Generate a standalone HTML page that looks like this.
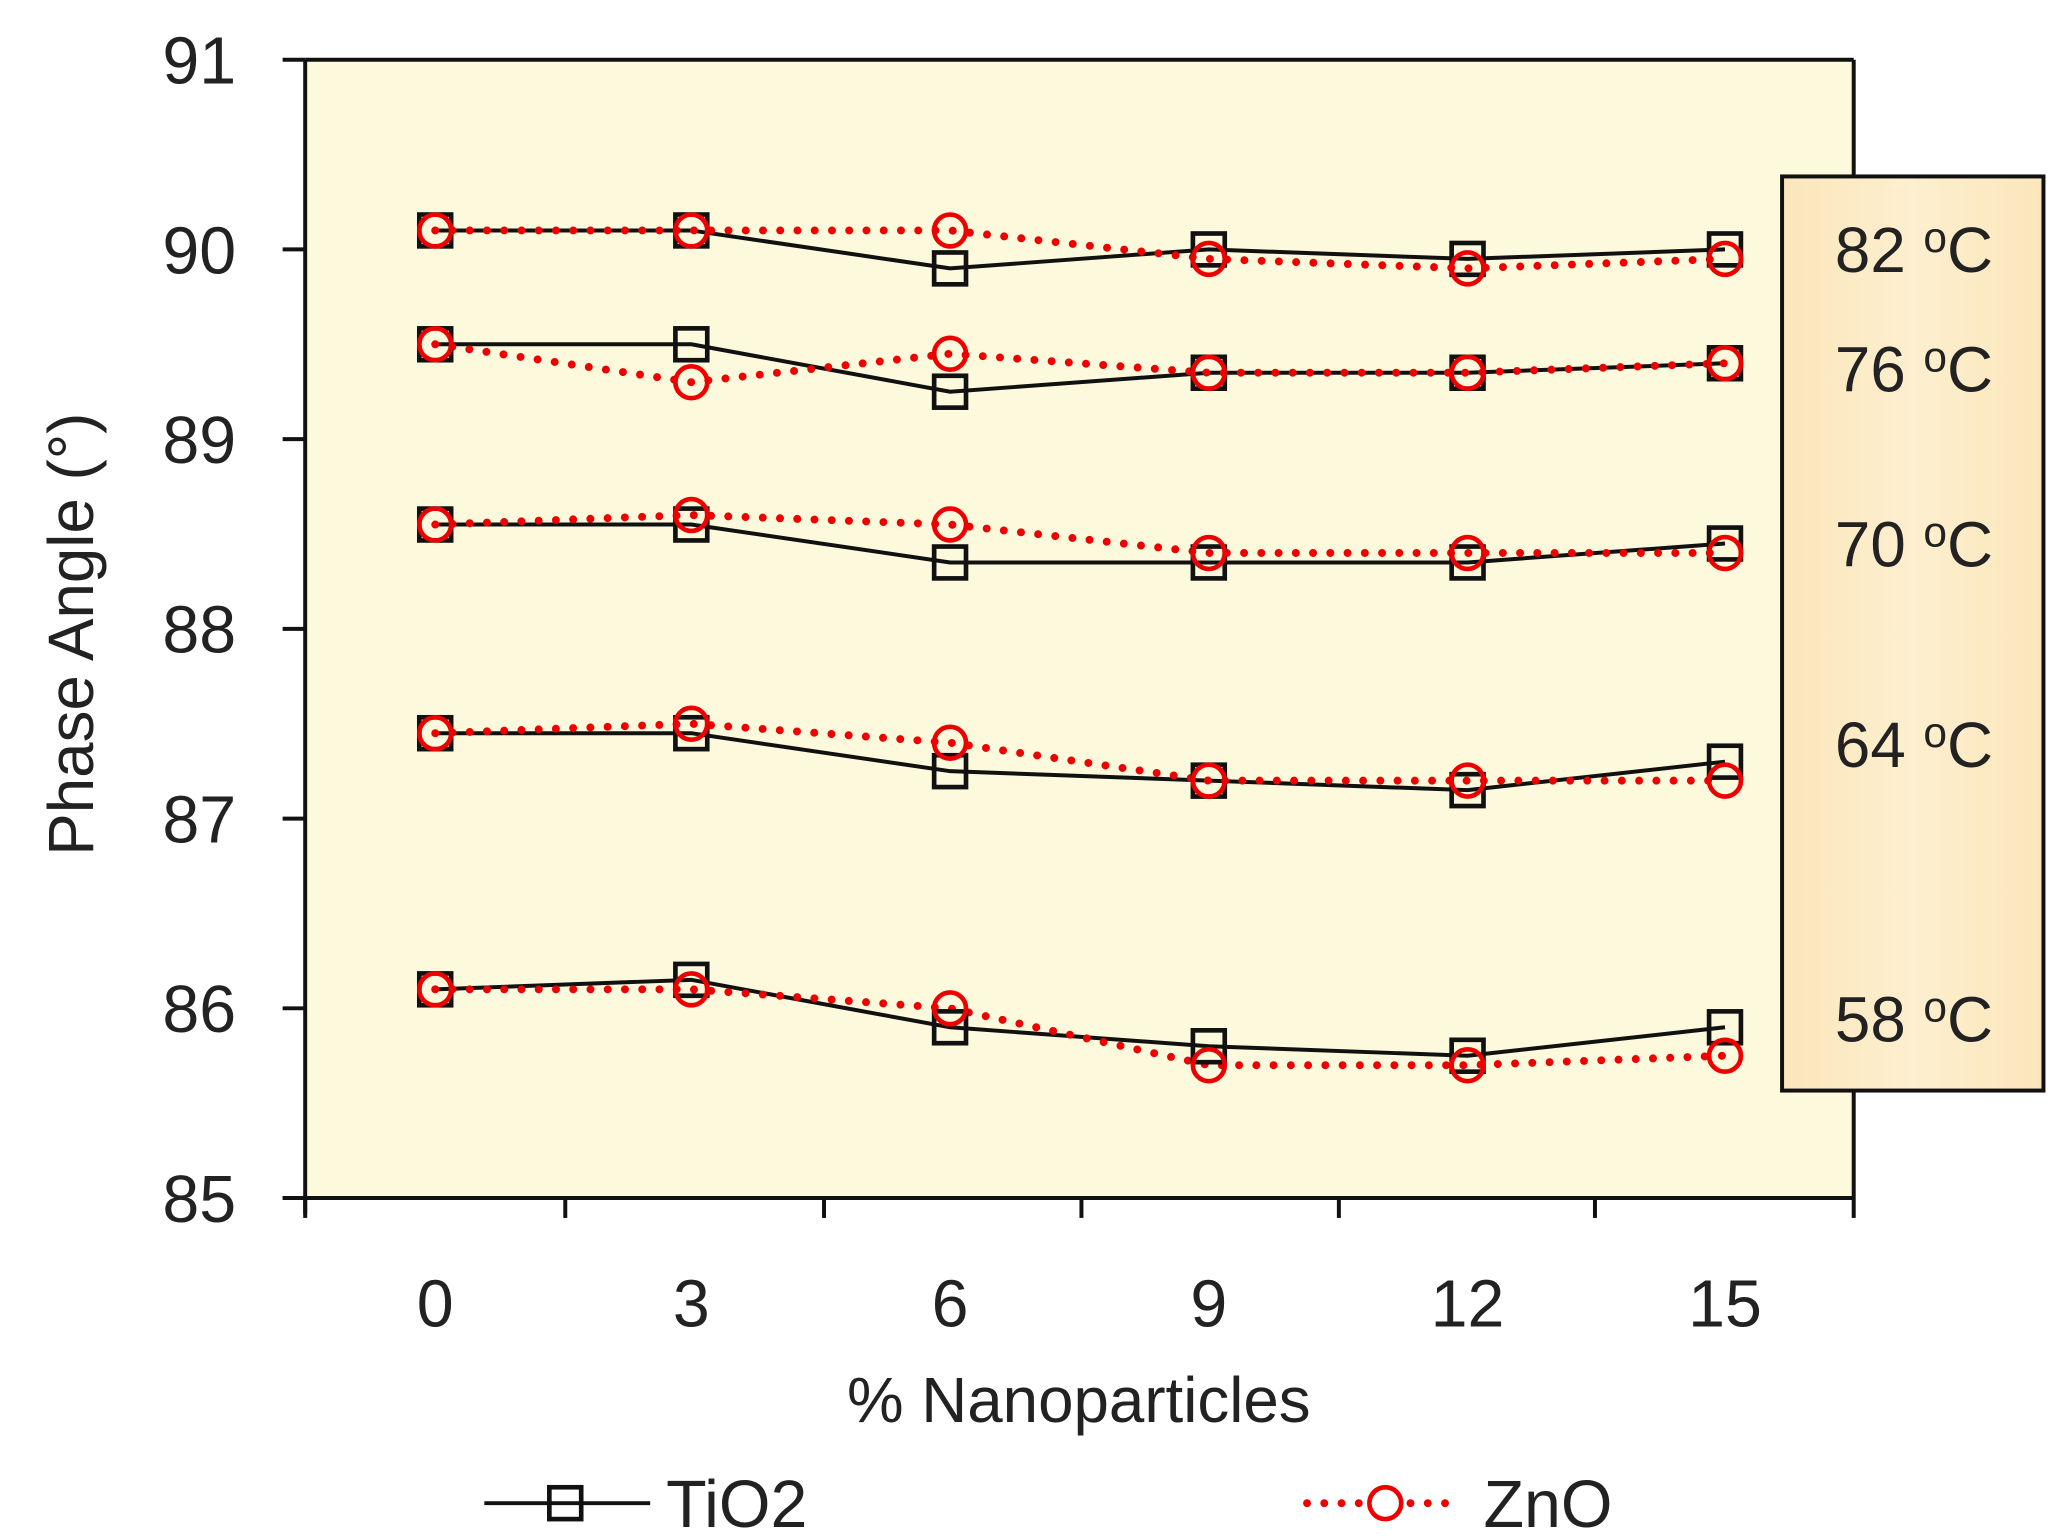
<!DOCTYPE html>
<html><head><meta charset="utf-8"><style>
html,body{margin:0;padding:0;background:#fff;}
svg{display:block;}
text{font-family:"Liberation Sans",sans-serif;fill:#222;}
</style></head><body>
<svg id="s" width="2070" height="1539" viewBox="0 0 1560 1160" preserveAspectRatio="none" xmlns="http://www.w3.org/2000/svg">
<defs><linearGradient id="g" x1="0" x2="1"><stop offset="0" stop-color="#fbe6bb"/><stop offset="0.5" stop-color="#fdefcf"/><stop offset="1" stop-color="#fbe6bb"/></linearGradient></defs>
<rect x="230" y="45" width="1167" height="858" fill="#fdf9dd"/>
<g id="axes" stroke="#111" stroke-width="3" fill="none">
<line x1="230" y1="45" x2="1397" y2="45"/>
<line x1="1397" y1="45" x2="1397" y2="903"/>
<line x1="230" y1="45" x2="230" y2="915"/>
<line x1="213" y1="903" x2="1397" y2="903"/>
</g>
<g id="ticks" stroke="#111" stroke-width="3"></g>
<g id="lbl" font-size="50" text-anchor="end"></g>
<text x="0" y="0" font-size="48" text-anchor="middle" transform="translate(70,478) rotate(-90)">Phase Angle (°)</text>
<text x="813" y="1072" font-size="48" text-anchor="middle">% Nanoparticles</text>
<g id="series"></g>
<rect x="1343" y="133" width="197" height="689" fill="url(#g)" stroke="#111" stroke-width="3"/>
<g font-size="48" text-anchor="end">
<text x="1502" y="205">82 <tspan font-size="32" dy="-15">o</tspan><tspan dy="15">C</tspan></text>
<text x="1502" y="295">76 <tspan font-size="32" dy="-15">o</tspan><tspan dy="15">C</tspan></text>
<text x="1502" y="427">70 <tspan font-size="32" dy="-15">o</tspan><tspan dy="15">C</tspan></text>
<text x="1502" y="578">64 <tspan font-size="32" dy="-15">o</tspan><tspan dy="15">C</tspan></text>
<text x="1502" y="785">58 <tspan font-size="32" dy="-15">o</tspan><tspan dy="15">C</tspan></text>
</g>
<line x1="365" y1="1133" x2="490" y2="1133" stroke="#111" stroke-width="3"/>
<rect x="414" y="1121" width="24" height="24" fill="none" stroke="#111" stroke-width="3.5"/>
<text x="502" y="1151" font-size="50">TiO2</text>
<line x1="985" y1="1133" x2="1100" y2="1133" stroke="#e00" stroke-width="6" stroke-linecap="round" stroke-dasharray="0 13"/>
<circle cx="1044" cy="1133" r="12" fill="#fff" stroke="#e00" stroke-width="3.5"/>
<text x="1118" y="1151" font-size="50">ZnO</text>
</svg>
<script>
var NS="http://www.w3.org/2000/svg";
function el(p,t,a){var e=document.createElementNS(NS,t);for(var k in a)e.setAttribute(k,a[k]);p.appendChild(e);return e;}
var Y=function(v){return 45+(91-v)*143;};
var tk=document.getElementById('ticks'),lb=document.getElementById('lbl');
for(var v=85;v<=91;v++){el(tk,'line',{x1:213,y1:Y(v),x2:230,y2:Y(v)});var t=el(lb,'text',{x:178,y:Y(v)+18});t.textContent=v;}
var xt=[230,426,621,815,1009,1202,1397];xt.forEach(function(x){el(tk,'line',{x1:x,y1:903,x2:x,y2:918});});
var X=[328,521,716,911,1106,1300],XL=['0','3','6','9','12','15'];
X.forEach(function(x,i){var t=el(document.getElementById('s'),'text',{x:x,y:1000,'font-size':50,'text-anchor':'middle'});t.textContent=XL[i];});
var T=[[90.1,90.1,89.9,90.0,89.95,90.0],[89.5,89.5,89.25,89.35,89.35,89.4],[88.55,88.55,88.35,88.35,88.35,88.45],[87.45,87.45,87.25,87.2,87.15,87.3],[86.1,86.15,85.9,85.8,85.75,85.9]];
var Z=[[90.1,90.1,90.1,89.95,89.9,89.95],[89.5,89.3,89.45,89.35,89.35,89.4],[88.55,88.6,88.55,88.4,88.4,88.4],[87.45,87.5,87.4,87.2,87.2,87.2],[86.1,86.1,86.0,85.7,85.7,85.75]];
var g=document.getElementById('series');
function pts(a){return a.map(function(v,i){return X[i]+','+Y(v);}).join(' ');}
T.forEach(function(a){el(g,'polyline',{points:pts(a),fill:'none',stroke:'#111','stroke-width':3});});
Z.forEach(function(a){el(g,'polyline',{points:pts(a),fill:'none',stroke:'#e00','stroke-width':6,'stroke-linecap':'round','stroke-dasharray':'0 13'});});
T.forEach(function(a){a.forEach(function(v,i){el(g,'rect',{x:X[i]-12,y:Y(v)-12,width:24,height:24,fill:'none',stroke:'#111','stroke-width':3.5});});});
Z.forEach(function(a){a.forEach(function(v,i){el(g,'circle',{cx:X[i],cy:Y(v),r:12,fill:'none',stroke:'#e00','stroke-width':3.5});});});
</script>
</body></html>
